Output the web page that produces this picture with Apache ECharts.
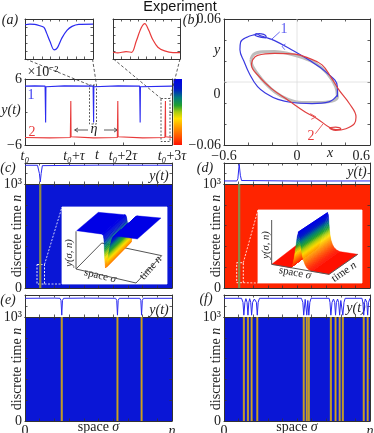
<!DOCTYPE html>
<html><head><meta charset="utf-8">
<style>html,body{margin:0;padding:0;background:#fff}#c{width:374px;height:433px}</style>
<script src="https://cdn.jsdelivr.net/npm/echarts@6/dist/echarts.min.js"></script>
</head><body><div id="c"></div>
<script>
// ---------- data ----------
const aBlue = [[0,4.7],[.2,4.75],[.41,4.7],[.415,4.6],[.421,-1.9],[.427,4.6],[.432,4.7],[.8,4.75],[1.39,4.7],[1.395,4.6],[1.40,-1.9],[1.405,4.6],[1.41,4.7],[1.9,4.75],[2.34,4.7],[2.345,4.6],[2.35,-1.9],[2.356,4.6],[2.36,4.7],[3,4.7]];
const aRed = [[0,-4.65],[.5,-4.7],[.925,-4.65],[.93,-4.5],[.935,2],[.94,-4.5],[.945,-4.65],[1.4,-4.7],[1.885,-4.65],[1.89,-4.5],[1.894,2],[1.9,-4.5],[1.905,-4.65],[2.4,-4.7],[2.856,-4.65],[2.861,-4.5],[2.866,2],[2.871,-4.5],[2.876,-4.65],[3,-4.65]];
const insetBlue = [[0,.857],[.07,.874],[.144,.866],[.219,.832],[.279,.79],[.318,.647],[.368,.437],[.428,.227],[.478,.286],[.542,.521],[.617,.714],[.692,.815],[.791,.866],[1,.874]];
const insetRed = [[0,.168],[.07,.151],[.195,.185],[.28,.168],[.345,.437],[.42,.773],[.475,.882],[.53,.731],[.595,.479],[.67,.294],[.77,.202],[.895,.16],[1,.16]];
const cycleGray = [[-.379,.0211],[-.352,.0266],[-.282,.0288],[-.184,.0291],[-.073,.0272],[.039,.0234],[.151,.0179],[.248,.0083],[.318,-.0045],[.332,-.0141],[.29,-.0182],[.179,-.0195],[.039,-.0195],[-.073,-.0166],[-.184,-.0093],[-.296,.0035],[-.365,.0147],[-.379,.0211]];
const phaseBlue = [[.332,-.0141],[.332,-.0045],[.234,.0099],[.095,.0211],[-.045,.0307],[-.184,.0394],[-.268,.0429],[-.31,.0445],[-.332,.0461],[-.346,.0451],[-.324,.0435],[-.254,.0419],[-.254,.0435],[-.31,.0461],[-.346,.0451],[-.407,.0429],[-.463,.0381],[-.469,.0307],[-.435,.0195],[-.393,.0083],[-.324,-.0045],[-.254,-.0109],[-.156,-.0166],[-.045,-.0195],[.123,-.0205],[.262,-.0189],[.332,-.0125]];
const phaseRed = [[-.365,.0211],[-.374,.0163],[-.324,.0067],[-.212,-.0061],[-.073,-.0173],[.067,-.0285],[.165,-.0349],[.262,-.0429],[.318,-.0454],[.36,-.0445],[.318,-.0429],[.268,-.0438],[.318,-.0461],[.402,-.0445],[.472,-.0397],[.485,-.0333],[.43,-.0205],[.346,-.0077],[.276,.0051],[.206,.0163],[.095,.0227],[-.017,.0266],[-.184,.0272],[-.324,.0253],[-.365,.0211]];
const arrowBlue = [[-.095,.0362],[-.123,.0339],[-.100,.0307]];
const arrowRed = [[.109,-.0301],[.156,-.0333],[.117,-.0355]];
const leaderBlue = [[-.212,.0403],[-.142,.0477]];
const leaderRed = [[.151,-.0493],[.215,-.0397]];
const traceC = [[0,4.7],[.085,4.7],[.09,4.5],[.098,0],[.104,-4.8],[.11,0],[.118,4.5],[.125,4.7],[.5,4.75],[1,4.7]];
const traceD = [[0,-4.25],[.088,-4.25],[.095,-3],[.104,5.3],[.112,-1],[.12,-4],[.13,-4.25],[.5,-4.3],[1,-4.25]];
const traceE = [[0,4.2],[.2,4.3],[.238,4.2],[.245,3],[.25,-5],[.255,3],[.262,4.2],[.4,4.3],[.617,4.2],[.624,3],[.629,-5],[.634,3],[.641,4.2],[.781,4.2],[.788,3],[.793,-5],[.798,3],[.805,4.2],[1,4.2]];
const traceF = [[0,4.2],[.12,4.2],[.13,2],[.136,-5],[.143,2],[.15,4],[.158,2],[.164,-5],[.17,2],[.176,4],[.183,2],[.189,-5],[.196,2],[.208,3.8],[.222,2],[.228,-5],[.234,2],[.243,4.2],[.53,4.2],[.54,2],[.546,-5],[.556,3.6],[.567,-5],[.574,3],[.581,-5],[.588,2],[.596,4.2],[.72,4.2],[.726,2],[.732,-5],[.74,2],[.75,3.8],[.758,2],[.764,-5],[.77,2],[.778,3.8],[.785,2],[.792,-5],[.8,3],[.814,-5],[.822,2],[.83,4.2],[.945,4.2],[.951,2],[.957,-5],[.963,2],[.968,3.8],[.978,2],[.984,-5],[.99,2],[1,4.2]];
const stripesC = [.104];
const stripesD = [.104];
const stripesE = [.25,.629,.793];
const stripesF = [.136,.164,.189,.228,.546,.567,.581,.732,.764,.792,.814,.957,.984];
const profileC = [[0,1],[.42,1],[.44,.98],[.45,.9],[.46,.7],[.47,.45],[.48,.28],[.49,.2],[.50,.22],[.51,.3],[.52,.4],[.53,.5],[.54,.62],[.56,.78],[.58,.9],[.60,.97],[.62,1],[1,1]];
const profileD = [[0,0],[.33,0],[.35,.03],[.37,.12],[.39,.3],[.41,.55],[.43,.85],[.45,1],[.47,.93],[.49,.72],[.51,.52],[.53,.37],[.55,.26],[.58,.15],[.61,.08],[.65,.03],[.70,0],[1,0]];
// ---------- styling ----------
const SERIF='"Liberation Serif",serif', DARK='#333', BLUE='#2a2af0', RED='#e83a3a';
const COLORS=[[0,'#ff1000'],[.12,'#ff5000'],[.25,'#ff9000'],[.4,'#ffe000'],[.5,'#a8cc10'],[.6,'#20a030'],[.72,'#007a80'],[.85,'#0018c8'],[1,'#0000e6']];
const hex=s=>[1,3,5].map(i=>parseInt(s.substr(i,2),16));
function cmap(h){h=Math.max(0,Math.min(1,h));for(let i=1;i<COLORS.length;i++){if(h<=COLORS[i][0]){const[a,ca]=COLORS[i-1],[b,cb]=COLORS[i];const t=(h-a)/(b-a),A=hex(ca),B=hex(cb);return 'rgb('+A.map((v,k)=>Math.round(v+(B[k]-v)*t)).join(',')+')';}}return COLORS[COLORS.length-1][1];}
const GRIDS=[[25,79,147,66],[25,19,68,40],[113,19,67,40],[224,19,146,126],[25,163,147,21],[25,184,147,104],[224,163,146,21],[224,184,146,104],[25,295,147,22],[25,317,147,104],[224,295,146,22],[224,317,146,104],[60,203,112,85],[255,205,112,85]];
const HEATBG={5:'#0a16d6',7:'#ff2400',9:'#0a16d6',11:'#0a16d6'};
const grid=GRIDS.map((g,i)=>({left:g[0],top:g[1],width:g[2],height:g[3],containLabel:false,outerBoundsMode:'none',show:!!HEATBG[i],backgroundColor:HEATBG[i]||'transparent',borderWidth:0}));
const xAxis=[],yAxis=[];
const line={lineStyle:{color:DARK,width:1}};
function frame(i,xo,yo){
  const tick=c=>({show:true,inside:true,length:2.5,lineStyle:{color:c||DARK,width:.8}});
  const base=(o,pos)=>({gridIndex:i,type:'value',position:pos,axisLine:{show:true,onZero:false,...line},axisTick:tick(o.tc),splitLine:{show:false},axisLabel:{show:false},min:o.min,max:o.max,interval:o.interval});
  xAxis.push(Object.assign(base(xo,'bottom'),xo.extra||{}));
  xAxis.push(base(xo,'top'));
  yAxis.push(Object.assign(base(yo,'left'),yo.extra||{}));
  yAxis.push(base(yo,'right'));
}
const lab={show:true,fontFamily:SERIF,fontSize:14,color:'#222',margin:3,hideOverlap:false,showMinLabel:true,showMaxLabel:true};
const italic={i:{fontFamily:SERIF,fontStyle:'italic',fontSize:14,color:'#222'}};
const nameDT={name:'discrete time {i|n}',nameLocation:'middle',nameMoveOverlap:false,nameGap:1,nameTextStyle:{fontFamily:SERIF,fontSize:14,color:'#222',rich:italic}};
const heatY={min:0,max:1000,interval:200,extra:{...nameDT,axisLabel:{...lab,margin:3,formatter:v=>v===1000?'10³':v===0?'0':''}}};
const etaX={min:0,max:1,interval:.1,extra:{name:'space {i|σ}',nameLocation:'middle',nameMoveOverlap:false,nameGap:-1,nameTextStyle:{fontFamily:SERIF,fontSize:14,color:'#222',rich:italic},axisLabel:{...lab,rich:italic,formatter:v=>v===0?'0':v===1?'{i|η}':''}}};
const plainX={min:0,max:1,interval:.1};
const topY={min:-6,max:6,interval:6};
frame(0,{min:0,max:3,interval:1,extra:{axisLabel:{...lab,rich:italic,margin:4,formatter:v=>['{i|t₀}','{i|t₀}+{i|τ}','{i|t₀}+2{i|τ}','{i|t₀}+3{i|τ}'][v]}}},
 {min:-6,max:6,interval:6,extra:{axisLabel:{...lab,margin:3,formatter:v=>v===6?'6':v===-6?'−6':''}}});
frame(1,{min:0,max:1,interval:.125},{min:0,max:1,interval:.2});
frame(2,{min:0,max:1,interval:.125},{min:0,max:1,interval:.2});
frame(3,{min:-.6,max:.6,interval:.2,extra:{axisLabel:{...lab,margin:4,alignMinLabel:'center',alignMaxLabel:'right',formatter:v=>Math.abs(v+.6)<1e-6?'−0.6':Math.abs(v)<1e-6?'0':Math.abs(v-.6)<1e-6?'0.6':''}}},
 {min:-.06,max:.06,interval:.02,extra:{axisLabel:{...lab,margin:3,formatter:v=>Math.abs(v-.06)<1e-6?'0.06':Math.abs(v+.06)<1e-6?'−0.06':''}}});
frame(4,plainX,topY);frame(5,plainX,heatY);
frame(6,plainX,topY);frame(7,plainX,heatY);
frame(8,plainX,topY);frame(9,etaX,heatY);
frame(10,plainX,topY);frame(11,etaX,heatY);
[12,13].forEach(i=>{xAxis.push({gridIndex:i,type:'value',min:0,max:336,show:false});yAxis.push({gridIndex:i,type:'value',min:0,max:255,inverse:true,show:false});});
const ax=g=>({xAxisIndex:g*2,yAxisIndex:g*2});
const ax3=i=>({xAxisIndex:24+i,yAxisIndex:24+i});
const series=[];
const addLine=(g,data,color,w,extra)=>series.push({type:'line',...ax(g),data,symbol:'none',silent:true,animation:false,lineStyle:{color,width:w},z:2,...(extra||{})});
addLine(0,aBlue,BLUE,1.1);addLine(0,aRed,RED,1.1);
addLine(1,insetBlue,BLUE,1.2,{smooth:.3});addLine(2,insetRed,RED,1.2,{smooth:.3});
series.push({type:'line',...ax(3),data:[[-.6,0],[.6,0]],symbol:'none',lineStyle:{color:'#ddd',width:.8},z:1,animation:false});
series.push({type:'line',...ax(3),data:[[0,-.06],[0,.06]],symbol:'none',lineStyle:{color:'#ddd',width:.8},z:1,animation:false});
addLine(3,cycleGray,'#bdbdbd',3,{smooth:.4});
addLine(3,phaseBlue,'#3a3ae0',1.2,{smooth:.4});
addLine(3,phaseRed,'#e04040',1.2,{smooth:.4});
addLine(3,arrowBlue,'#5a5af0',.9);addLine(3,arrowRed,'#e85050',.9);
addLine(3,leaderBlue,'#5a5af0',.9);addLine(3,leaderRed,'#e85050',.9);
addLine(4,traceC,BLUE,1);addLine(6,traceD,BLUE,1);addLine(8,traceE,BLUE,1);addLine(10,traceF,BLUE,1);
const stripeRender=color=>(p,api)=>{const a=api.coord([api.value(0)-api.value(1)/2,1000]),b=api.coord([api.value(0)+api.value(1)/2,0]);return{type:'rect',shape:{x:a[0],y:a[1],width:b[0]-a[0],height:b[1]-a[1]},style:{fill:color}};};
const WIDE=.015,NARROW=.008;
[[5,stripesC,'#9a8a3c'],[7,stripesD,'#9a8a3c'],[9,stripesE,'#d6981e'],[11,stripesF,'#dc9a1c']].forEach(([g,s,core])=>{
  series.push({type:'custom',...ax(g),renderItem:stripeRender('#7f8a58'),data:s.map(c=>[c,WIDE]),encode:{x:0,y:1},silent:true,z:2,animation:false});
  series.push({type:'custom',...ax(g),renderItem:stripeRender(core),data:s.map(c=>[c,NARROW]),encode:{x:0,y:1},silent:true,z:2,animation:false});
});
const lerp=(a,b,t)=>[a[0]+(b[0]-a[0])*t,a[1]+(b[1]-a[1])*t];
const P=(v,s,n,h)=>{const bl=lerp(lerp(v.base[0],v.base[1],s),lerp(v.base[3],v.base[2],s),n);const tp=lerp(lerp(v.top[0],v.top[1],s),lerp(v.top[3],v.top[2],s),n);return lerp(bl,tp,h);};
const VIEW_C={base:[[48,198],[228,240],[305,158],[125,120]],top:[[50,83],[232,108],[303,45],[115,28]]};
const VIEW_D={base:[[50,178],[222,208],[308,148],[125,120]],top:[[52,68],[226,96],[318,36],[135,12]]};
const surface=v=>(p,api)=>{
  const s1=api.value(0),h1=api.value(1),s2=api.value(2),h2=api.value(3),N=h1===h2?1:6,children=[];
  for(let k=0;k<N;k++){
    const a=k/N,b=(k+1)/N,sa=s1+(s2-s1)*a,sb=s1+(s2-s1)*b,ha=h1+(h2-h1)*a,hb=h1+(h2-h1)*b,c=cmap((ha+hb)/2);
    children.push({type:'polygon',shape:{points:[P(v,sa,0,ha),P(v,sb,0,hb),P(v,sb,1,hb),P(v,sa,1,ha)].map(q=>api.coord(q))},style:{fill:c,stroke:c,lineWidth:.4}});
  }
  return{type:'group',children};
};
const strips=pr=>pr.slice(0,-1).map((q,i)=>[q[0],q[1],pr[i+1][0],pr[i+1][1]]);
series.push({type:'line',...ax3(0),data:[[48,85],[48,198],[228,240],[305,158],[125,120],[48,198]],symbol:'none',lineStyle:{color:'#555',width:1},z:4,animation:false,silent:true});
series.push({type:'custom',...ax3(0),renderItem:surface(VIEW_C),data:strips(profileC),encode:{x:0,y:1},z:5,silent:true,animation:false});
series.push({type:'custom',...ax3(1),renderItem:surface(VIEW_D),data:strips(profileD),encode:{x:0,y:1},z:5,silent:true,animation:false});
series.push({type:'line',...ax3(1),data:[[50,45],[50,178],[222,208],[308,148]],symbol:'none',lineStyle:{color:'#555',width:1},z:6,animation:false,silent:true});
const T=(x,y,text,o={})=>({type:'text',x,y,rotation:o.rot||0,style:{x:0,y:0,text,fontFamily:o.font||SERIF,fontSize:o.size||13,fill:o.color||'#222',fontStyle:o.style||'normal',textAlign:o.align||'center',textVerticalAlign:'middle',rich:o.rich}});
const I=(x,y,text,o={})=>T(x,y,text,{style:'italic',...o});
const L=(pts,o={})=>({type:'polyline',shape:{points:pts},style:{stroke:o.color||'#333',lineWidth:o.w||.8,lineDash:o.dash||null,fill:null}});
const R=(x,y,w,h,o={})=>({type:'rect',shape:{x,y,width:w,height:h},style:{stroke:o.color||'#333',lineWidth:o.w||.8,lineDash:o.dash||[2,1.5],fill:o.fill||null}});
const under=[R(62,207,105,77,{fill:'#fff',color:'#fff',dash:[1,0]}),R(258,210,104,73,{fill:'#fff',color:'#fff',dash:[1,0]})];
const cbar={type:'rect',shape:{x:173.5,y:79,width:8.5,height:66},style:{fill:new echarts.graphic.LinearGradient(0,1,0,0,COLORS.map(([o,c])=>({offset:o,color:c})))}};
const r11={i:{fontFamily:SERIF,fontStyle:'italic',fontSize:11}};
const over=[cbar,
 T(180,7,'Experiment',{font:'"Liberation Sans",sans-serif',size:14.5,color:'#111'}),
 I(10,20,'(a)',{size:14}),I(191,20,'(b)',{size:14}),I(8,168,'(c)',{size:14}),I(205,168,'(d)',{size:14}),I(8,300,'(e)',{size:14}),I(206,299,'(f)',{size:14}),
 T(43,72,'×10⁻²',{size:14}),
 I(11,110,'y(t)',{size:14}),I(97,155,'t',{size:14}),
 T(31,95,'1',{color:'#3a3af0',size:14}),T(32,132,'2',{color:RED,size:14}),
 I(94,129,'η',{size:14}),
 L([[75,130],[88,130]]),L([[104,130],[117,130]]),L([[78,128],[74.5,130],[78,132]]),L([[114,128],[117.5,130],[114,132]]),
 R(89.5,85,7,39),L([[93.5,85],[93.5,124]],{dash:[2,1.5]}),R(161,98.5,9,43),
 L([[25.5,59],[89.5,85]],{dash:[3,2]}),L([[92.5,59],[96.5,85]],{dash:[3,2]}),L([[113.5,59],[161,98.5]],{dash:[3,2]}),L([[180,59],[170,98.5]],{dash:[3,2]}),
 I(217,50,'y',{size:14}),I(330,153,'x',{size:14}),T(217,94,'0',{size:14}),
 T(284,29,'1',{color:'#5a5af0',size:14}),T(311,136,'2',{color:RED,size:14}),
 I(159,176,'y(t)',{size:14}),I(357,172,'y(t)',{size:14}),I(159,310,'y(t)',{size:14}),I(356,308,'y(t)',{size:14}),
 R(37,264.5,7.5,19.5,{color:'#fff',w:.9}),L([[44.5,264.5],[62,207]],{color:'#fff',dash:[2,1.5]}),L([[44.5,284],[62,284]],{color:'#fff',dash:[2,1.5]}),
 R(236.7,262.7,6.6,20,{color:'#fff',w:.9}),L([[243.3,262.7],[258,210]],{color:'#fff',dash:[2,1.5]}),L([[243.3,282.7],[258,283]],{color:'#fff',dash:[2,1.5]}),
 T(100,276,'space {i|σ}',{size:11,rot:-.23,rich:r11}),
 T(150.7,268,'time {i|n}',{size:11,rot:.85,rich:r11}),
 I(69.3,253,'y(σ, n)',{size:10.5,rot:1.57}),
 T(295,273,'space {i|σ}',{size:11,rot:-.18,rich:r11}),
 T(344,272,'time {i|n}',{size:11,rot:.6,rich:r11}),
 I(266,245,'y(σ, n)',{size:10.5,rot:1.57})
];
const chart=echarts.init(document.getElementById('c'),null,{renderer:'canvas',width:374,height:433});
chart.setOption({animation:false,backgroundColor:'#fff',grid,xAxis,yAxis,series,graphic:{z:3,elements:under.concat(over)}});
</script></body></html>
